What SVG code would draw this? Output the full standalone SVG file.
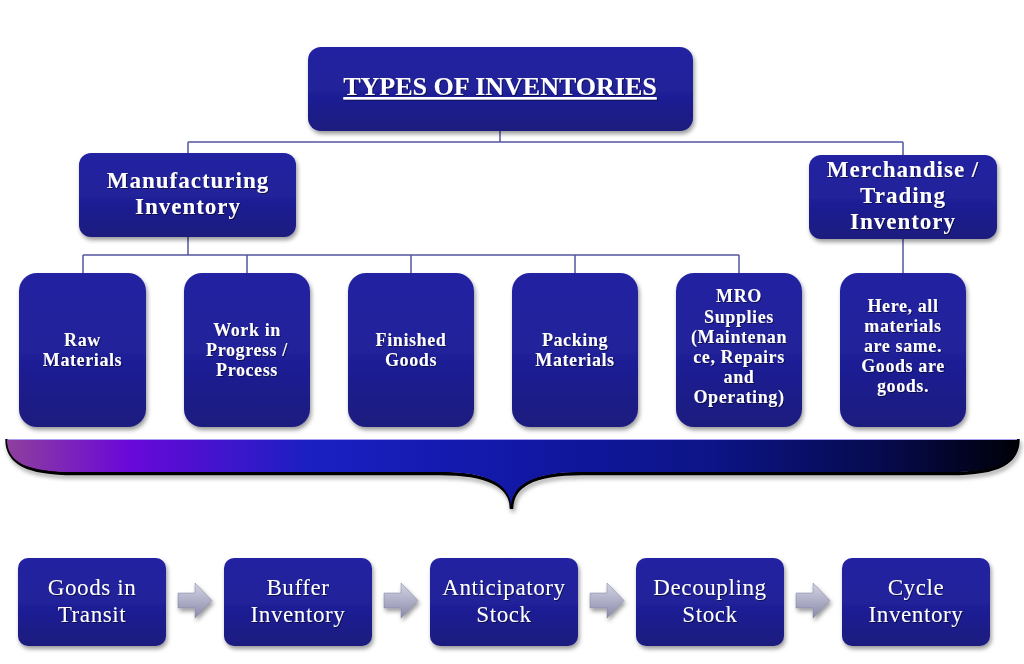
<svg xmlns="http://www.w3.org/2000/svg" width="1024" height="664" viewBox="0 0 1024 664">
<defs>
<linearGradient id="boxg" x1="0" y1="0" x2="0" y2="1">
<stop offset="0" stop-color="#2424A2"/>
<stop offset="0.5" stop-color="#20209A"/>
<stop offset="1" stop-color="#1A1A7E"/>
</linearGradient>
<linearGradient id="braceg" x1="7" y1="0" x2="1018" y2="0" gradientUnits="userSpaceOnUse">
<stop offset="0" stop-color="#8E409C"/>
<stop offset="0.12" stop-color="#6A08D8"/>
<stop offset="0.3" stop-color="#1A20C2"/>
<stop offset="0.5" stop-color="#1218A6"/>
<stop offset="0.7" stop-color="#0C1486"/>
<stop offset="0.87" stop-color="#060A4C"/>
<stop offset="1" stop-color="#000008"/>
</linearGradient>
<linearGradient id="arrg" x1="0" y1="0" x2="0" y2="1">
<stop offset="0" stop-color="#D4D4E6"/>
<stop offset="1" stop-color="#8A8AAA"/>
</linearGradient>
<filter id="sh" x="-10%" y="-10%" width="125%" height="130%">
<feDropShadow dx="1.5" dy="3" stdDeviation="2" flood-color="#000" flood-opacity="0.4"/>
</filter>
<filter id="tsh" x="-5%" y="-20%" width="110%" height="140%">
<feDropShadow dx="1" dy="1" stdDeviation="0.6" flood-color="#000" flood-opacity="0.5"/>
</filter>
</defs>
<style>
.box{fill:url(#boxg);filter:url(#sh);}
.t{fill:#fff;font-family:"Liberation Serif","Times New Roman",serif;text-anchor:middle;filter:url(#tsh);}
.title{font-size:26px;font-weight:bold;text-decoration:underline;}
.mid{font-size:23px;font-weight:bold;letter-spacing:1px;}
.sm{font-size:18px;font-weight:bold;letter-spacing:0.6px;}
.bt{font-size:23px;letter-spacing:0.6px;}
.conn{fill:none;stroke:#5656A0;stroke-width:1.5;}
.arr{fill:url(#arrg);stroke:#7C7C9C;stroke-width:0.5;filter:url(#sh);}
</style>

<g id="connectors">
<path class="conn" d="M500,131 V142 M188,142 H903 M188,142 V153 M903,142 V155"/>
<path class="conn" d="M188,237 V255 M83,255 H739 M83,255 V273 M247,255 V273 M411,255 V273 M575,255 V273 M739,255 V273"/>
<path class="conn" d="M903,239 V273"/>
<polygon class="arr" points="178,593 195,593 195,583 212,600.5 195,618 195,608 178,608"/>
<polygon class="arr" points="384,593 401,593 401,583 418,600.5 401,618 401,608 384,608"/>
<polygon class="arr" points="590,593 607,593 607,583 624,600.5 607,618 607,608 590,608"/>
<polygon class="arr" points="796,593 813,593 813,583 830,600.5 813,618 813,608 796,608"/>
</g>

<g id="root">
<rect class="box" x="308" y="47" width="385" height="84" rx="13"/>
<text class="t title" x="500" y="95">TYPES OF INVENTORIES</text>
</g>

<g id="manufacturing">
<rect class="box" x="79" y="153" width="217" height="84" rx="12"/>
<text class="t mid" x="188" y="188">Manufacturing</text>
<text class="t mid" x="188" y="214">Inventory</text>
</g>

<g id="merchandise">
<rect class="box" x="809" y="155" width="188" height="84" rx="12"/>
<text class="t mid" x="903" y="177">Merchandise /</text>
<text class="t mid" x="903" y="203">Trading</text>
<text class="t mid" x="903" y="229">Inventory</text>
</g>

<g id="raw">
<rect class="box" x="19" y="273" width="127" height="154" rx="18"/>
<text class="t sm" x="82.5" y="346">Raw</text>
<text class="t sm" x="82.5" y="366">Materials</text>
</g>

<g id="wip">
<rect class="box" x="184" y="273" width="126" height="154" rx="18"/>
<text class="t sm" x="247" y="336">Work in</text>
<text class="t sm" x="247" y="356">Progress /</text>
<text class="t sm" x="247" y="376">Process</text>
</g>

<g id="finished">
<rect class="box" x="348" y="273" width="126" height="154" rx="18"/>
<text class="t sm" x="411" y="346">Finished</text>
<text class="t sm" x="411" y="366">Goods</text>
</g>

<g id="packing">
<rect class="box" x="512" y="273" width="126" height="154" rx="18"/>
<text class="t sm" x="575" y="346">Packing</text>
<text class="t sm" x="575" y="366">Materials</text>
</g>

<g id="mro">
<rect class="box" x="676" y="273" width="126" height="154" rx="18"/>
<text class="t sm" x="739" y="302">MRO</text>
<text class="t sm" x="739" y="323">Supplies</text>
<text class="t sm" x="739" y="343">(Maintenan</text>
<text class="t sm" x="739" y="363">ce, Repairs</text>
<text class="t sm" x="739" y="383">and</text>
<text class="t sm" x="739" y="403">Operating)</text>
</g>

<g id="here">
<rect class="box" x="840" y="273" width="126" height="154" rx="18"/>
<text class="t sm" x="903" y="312">Here, all</text>
<text class="t sm" x="903" y="332">materials</text>
<text class="t sm" x="903" y="352">are same.</text>
<text class="t sm" x="903" y="372">Goods are</text>
<text class="t sm" x="903" y="392">goods.</text>
</g>

<g id="brace">
<path d="M7,439 C7,462 25,473.5 75,473.5 H440 C490,473.5 511.5,486 511.5,509 C511.5,486 532,473.5 582,473.5 H950 C1000,473.5 1018,462 1018,439" fill="none" stroke="#000" stroke-width="3.5" filter="url(#sh)"/>
<path d="M7,439 H1018 C1018,462 1000,472 950,472 H582 C532,472 511,485 511,508 C511,485 490,472 440,472 H75 C25,472 7,462 7,439 Z" fill="url(#braceg)"/>
<line x1="8" y1="439.5" x2="1017" y2="439.5" stroke="#A8A0F0" stroke-width="1"/>
</g>

<g id="transit">
<rect class="box" x="18" y="558" width="148" height="88" rx="10"/>
<text class="t bt" x="92" y="595">Goods in</text>
<text class="t bt" x="92" y="622">Transit</text>
</g>

<g id="buffer">
<rect class="box" x="224" y="558" width="148" height="88" rx="10"/>
<text class="t bt" x="298" y="595">Buffer</text>
<text class="t bt" x="298" y="622">Inventory</text>
</g>

<g id="anticipatory">
<rect class="box" x="430" y="558" width="148" height="88" rx="10"/>
<text class="t bt" x="504" y="595">Anticipatory</text>
<text class="t bt" x="504" y="622">Stock</text>
</g>

<g id="decoupling">
<rect class="box" x="636" y="558" width="148" height="88" rx="10"/>
<text class="t bt" x="710" y="595">Decoupling</text>
<text class="t bt" x="710" y="622">Stock</text>
</g>

<g id="cycle">
<rect class="box" x="842" y="558" width="148" height="88" rx="10"/>
<text class="t bt" x="916" y="595">Cycle</text>
<text class="t bt" x="916" y="622">Inventory</text>
</g>
</svg>
